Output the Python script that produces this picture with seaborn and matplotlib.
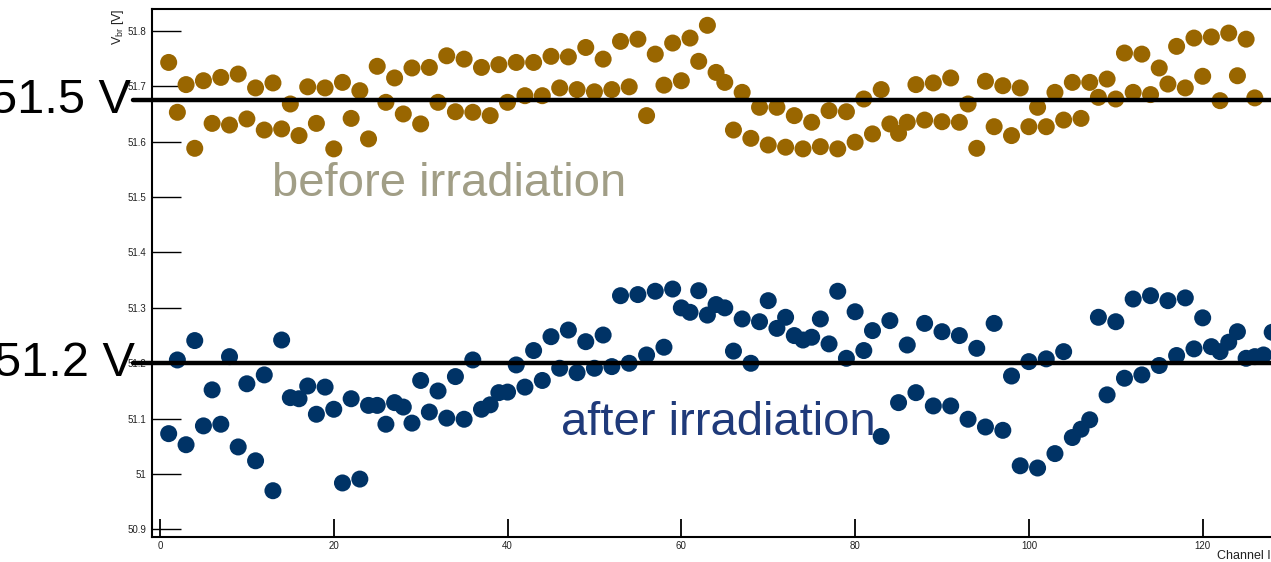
import numpy as np
import pandas as pd
import matplotlib
matplotlib.use("Agg")
import matplotlib.pyplot as plt
import matplotlib.transforms as mtransforms
from matplotlib.ticker import FuncFormatter
import seaborn as sns

# Breakdown voltage per SiPM channel, before and after irradiation [V]
channels_before = np.arange(1, 127)
vbr_before = [
    51.743, 51.653, 51.703, 51.588, 51.710, 51.633, 51.716, 51.630, 51.722, 51.641,
    51.697, 51.621, 51.706, 51.623, 51.668, 51.611, 51.699, 51.633, 51.697, 51.587,
    51.707, 51.642, 51.692, 51.605, 51.736, 51.671, 51.715, 51.650, 51.733, 51.632,
    51.734, 51.671, 51.755, 51.654, 51.749, 51.653, 51.734, 51.647, 51.739, 51.671,
    51.743, 51.683, 51.743, 51.683, 51.754, 51.697, 51.753, 51.694, 51.770, 51.690,
    51.749, 51.694, 51.781, 51.699, 51.785, 51.647, 51.758, 51.702, 51.778, 51.710,
    51.787, 51.745, 51.810, 51.725, 51.707, 51.621, 51.689, 51.606, 51.662, 51.594,
    51.662, 51.590, 51.647, 51.587, 51.635, 51.591, 51.656, 51.587, 51.654, 51.599,
    51.677, 51.614, 51.694, 51.632, 51.615, 51.635, 51.703, 51.639, 51.706, 51.636,
    51.715, 51.635, 51.668, 51.588, 51.709, 51.627, 51.701, 51.611, 51.697, 51.627,
    51.662, 51.627, 51.689, 51.639, 51.707, 51.642, 51.707, 51.680, 51.713, 51.677,
    51.760, 51.689, 51.758, 51.685, 51.733, 51.704, 51.772, 51.697, 51.787, 51.718,
    51.789, 51.674, 51.796, 51.719, 51.785, 51.679,
]

channels_after = np.arange(1, 129)
vbr_after = [
    51.073, 51.206, 51.053, 51.241, 51.087, 51.152, 51.090, 51.212, 51.049, 51.163,
    51.024, 51.179, 50.970, 51.242, 51.138, 51.136, 51.159, 51.108, 51.157, 51.117,
    50.984, 51.136, 50.991, 51.124, 51.124, 51.090, 51.129, 51.121, 51.092, 51.169,
    51.112, 51.150, 51.101, 51.176, 51.099, 51.206, 51.117, 51.125, 51.147, 51.148,
    51.197, 51.157, 51.223, 51.169, 51.248, 51.191, 51.260, 51.183, 51.239, 51.191,
    51.251, 51.194, 51.322, 51.200, 51.324, 51.215, 51.330, 51.229, 51.334, 51.300,
    51.292, 51.331, 51.287, 51.306, 51.300, 51.222, 51.280, 51.200, 51.275, 51.313,
    51.263, 51.283, 51.250, 51.242, 51.247, 51.280, 51.235, 51.330, 51.209, 51.293,
    51.223, 51.259, 51.068, 51.277, 51.129, 51.233, 51.147, 51.272, 51.123, 51.257,
    51.123, 51.250, 51.099, 51.227, 51.085, 51.272, 51.079, 51.177, 51.015, 51.203,
    51.011, 51.208, 51.037, 51.221, 51.066, 51.081, 51.098, 51.283, 51.143, 51.275,
    51.173, 51.316, 51.179, 51.322, 51.196, 51.313, 51.214, 51.318, 51.226, 51.282,
    51.230, 51.221, 51.238, 51.257, 51.209, 51.212, 51.215, 51.256,
]

# Reference voltage lines and their labels
ref_values = [51.675, 51.2]
ref_labels = ["51.5 V", "51.2 V"]
series_labels = ["before irradiation", "after irradiation"]

y_ticks = [50.9, 51.0, 51.1, 51.2, 51.3, 51.4, 51.5, 51.6, 51.7, 51.8]
x_ticks = [0, 20, 40, 60, 80, 100, 120]

df = pd.concat([
    pd.DataFrame({"channel": channels_before, "vbr": vbr_before, "state": series_labels[0]}),
    pd.DataFrame({"channel": channels_after, "vbr": vbr_after, "state": series_labels[1]}),
], ignore_index=True)

sns.set_theme(style="white")
plt.rcParams["font.family"] = ["Liberation Sans", "DejaVu Sans"]
plt.rcParams["mathtext.fontset"] = "custom"
plt.rcParams["mathtext.rm"] = "Liberation Sans"
plt.rcParams["mathtext.it"] = "Liberation Sans"

W, H, DPI = 1271, 562, 100
fig = plt.figure(figsize=(W / DPI, H / DPI), dpi=DPI)
fig.patch.set_facecolor("white")

# Axis limits and pixel geometry of the plotting frame
xmin, xmax = -0.92, 132.0
ymin, ymax = 50.887, 51.840
px_per_ch = 8.689
left_px, top_px, bottom_px = 152, 8.7, 536.7
ax_w_px = (xmax - xmin) * px_per_ch
ax = fig.add_axes([left_px / W, (H - bottom_px) / H, ax_w_px / W, (bottom_px - top_px) / H])
ax.set_facecolor("white")

palette = {series_labels[0]: "#996600", series_labels[1]: "#003366"}
sns.scatterplot(data=df, x="channel", y="vbr", hue="state", palette=palette,
                s=150, linewidth=0, edgecolor="none", legend=False, ax=ax, zorder=3)

ax.set_xlim(xmin, xmax)
ax.set_ylim(ymin, ymax)
ax.set_xticks(x_ticks)
ax.set_yticks(y_ticks)
ax.yaxis.set_major_formatter(FuncFormatter(lambda v, p: f"{v:g}"))
ax.tick_params(axis="y", which="major", left=True, right=False, direction="in",
               length=21, width=1.0, color="black",
               labelsize=7, labelcolor="#222222", pad=4)
ax.tick_params(axis="x", which="major", bottom=True, top=False, direction="in",
               length=13, width=1.3, color="black",
               labelsize=7, labelcolor="#222222", pad=3)
ax.set_xlabel("")
ax.set_ylabel("")
for side in ["left", "bottom", "top", "right"]:
    ax.spines[side].set_color("black")
    ax.spines[side].set_linewidth(1.5)

# Thick reference lines starting left of the frame, with big labels
line_start = (133 - left_px) / ax_w_px
label_right_px = [131, 135]
blend = mtransforms.blended_transform_factory(ax.transAxes, ax.transData)
for val, lab, rpx in zip(ref_values, ref_labels, label_right_px):
    ax.axhline(val, xmin=line_start, xmax=1, color="black", lw=3.2,
               clip_on=False, zorder=5)
    ax.text((rpx - left_px) / ax_w_px, val, lab, transform=blend, ha="right",
            va="center", fontsize=35, color="black", zorder=6, clip_on=False)

# Series annotations
ax.text(12.9, 51.502, series_labels[0], ha="left", va="baseline",
        fontsize=34, color="#a19e86", zorder=4)
ax.text(46.1, 51.071, series_labels[1], ha="left", va="baseline",
        fontsize=34, color="#1f3a7a", zorder=4)

# Axis titles in ROOT style: right-aligned at the axis ends
fig.text(118 / W, 1 - 9 / H, r"V$_{\mathrm{br}}$ [V]", rotation=90,
         ha="center", va="top", fontsize=9, color="#222222")
fig.text(1217 / W, 1 - 550 / H, "Channel ID", ha="left", va="top",
         fontsize=9, color="#222222")

fig.savefig("out.png", dpi=DPI, facecolor="white")
